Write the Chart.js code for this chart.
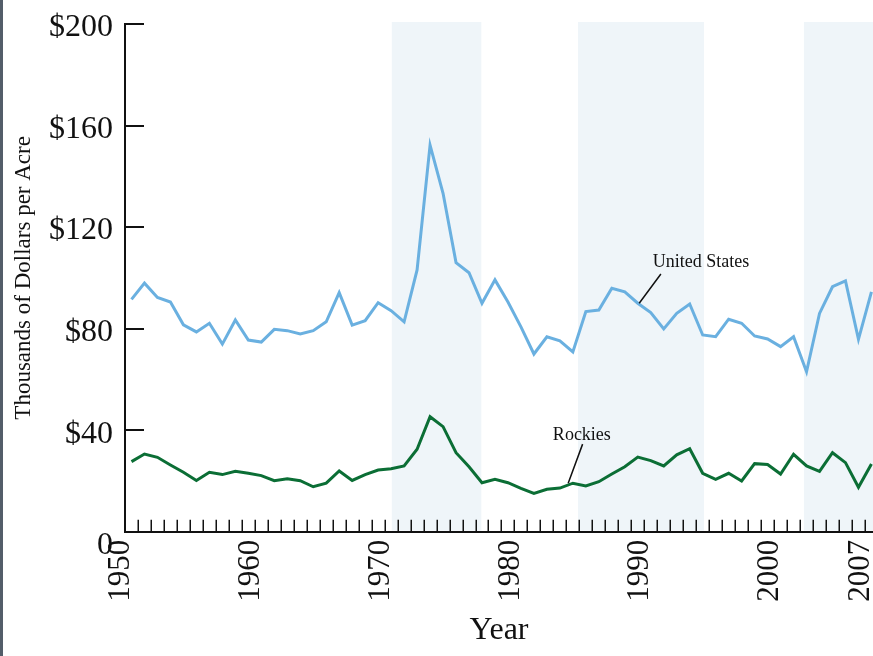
<!DOCTYPE html>
<html>
<head>
<meta charset="utf-8">
<script src="https://cdn.jsdelivr.net/npm/chart.js@4.4.1/dist/chart.umd.min.js"></script>
<style>
  html, body { margin: 0; padding: 0; background: #fff; }
  #wrap { position: relative; width: 873px; height: 656px; overflow: hidden; }
  #edge { position: absolute; left: 0; top: 0; width: 3px; height: 656px; background: #535d69; }
</style>
</head>
<body>
<div id="wrap">
  <canvas id="landChart" width="873" height="656"></canvas>
  <div id="edge"></div>
</div>
<script>
// Land value, thousands of dollars per acre
const years = [
  1950, 1951, 1952, 1953, 1954, 1955, 1956, 1957, 1958, 1959,
  1960, 1961, 1962, 1963, 1964, 1965, 1966, 1967, 1968, 1969,
  1970, 1971, 1972, 1973, 1974, 1975, 1976, 1977, 1978, 1979,
  1980, 1981, 1982, 1983, 1984, 1985, 1986, 1987, 1988, 1989,
  1990, 1991, 1992, 1993, 1994, 1995, 1996, 1997, 1998, 1999,
  2000, 2001, 2002, 2003, 2004, 2005, 2006, 2007
];
const unitedStates = [
  91.5, 97.9, 92.3, 90.5, 81.5, 78.7, 82.1, 73.9, 83.4, 75.5,
  74.7, 79.7, 79.2, 77.9, 79.2, 82.7, 94.2, 81.4, 83.1, 90.2,
  87.1, 82.7, 103.1, 152.3, 133.3, 106.0, 102.0, 90.0, 99.2, 90.5,
  80.7, 70.0, 76.8, 75.2, 70.8, 86.7, 87.3, 95.9, 94.5, 90.0,
  86.3, 79.9, 86.0, 89.7, 77.5, 76.8, 83.7, 82.1, 77.1, 75.9,
  72.9, 76.8, 63.0, 86.0, 96.5, 98.8, 75.8, 94.5
];
const rockies = [
  27.6, 30.6, 29.3, 26.3, 23.4, 20.2, 23.4, 22.5, 23.8, 23.0,
  22.1, 20.1, 20.9, 20.1, 17.7, 19.1, 23.9, 20.2, 22.5, 24.3,
  24.8, 25.9, 32.5, 45.3, 41.4, 31.1, 25.6, 19.3, 20.6, 19.3,
  17.1, 15.1, 16.7, 17.2, 19.1, 18.0, 19.7, 22.7, 25.6, 29.4,
  28.0, 25.9, 30.3, 32.7, 23.0, 20.6, 23.0, 20.0, 26.8, 26.5,
  22.7, 30.5, 25.9, 23.8, 31.1, 27.2, 17.5, 26.7
];
const yearLabels = [1950, 1960, 1970, 1980, 1990, 2000, 2007];
const valueTicks = [0, 40, 80, 120, 160, 200];
const bandStart = [1970.55, 1984.9, 2002.3];
const bandEnd = [1977.45, 1994.6, 2008];

const SERIF = '"Liberation Serif", "DejaVu Serif", serif';
const INK = '#111';

// year values plotted mid-year
const toPoints = vals => years.map((yr, i) => ({ x: yr + 0.5, y: vals[i] }));

// keep the plot area fixed: no extra room for overhanging labels
function fixBox(size) {
  return s => {
    if (s.isHorizontal()) s.height = size; else s.width = size;
    s.paddingLeft = s.paddingRight = s.paddingTop = s.paddingBottom = 0;
  };
}

const decor = {
  id: 'decor',
  beforeDatasetsDraw(chart) {
    const { ctx, chartArea: a, scales: { x } } = chart;
    ctx.save();
    ctx.fillStyle = '#eff5f9';
    bandStart.forEach((s, i) => {
      const x0 = x.getPixelForValue(s);
      const x1 = Math.min(x.getPixelForValue(bandEnd[i]), a.right);
      ctx.fillRect(x0, a.top - 2, x1 - x0, a.bottom - a.top + 1);
    });
    ctx.restore();
  },
  afterDatasetsDraw(chart) {
    const { ctx, chartArea: a, scales: { x, y } } = chart;
    ctx.save();
    ctx.strokeStyle = INK;
    // inward value ticks
    ctx.lineWidth = 2;
    valueTicks.slice(1).forEach(v => {
      const py = Math.round(y.getPixelForValue(v));
      ctx.beginPath(); ctx.moveTo(a.left, py); ctx.lineTo(a.left + 19, py); ctx.stroke();
    });
    // yearly minor ticks
    ctx.lineWidth = 1.5;
    years.slice(1).forEach(yr => {
      const px = Math.round(x.getPixelForValue(yr)) + 0.25;
      ctx.beginPath(); ctx.moveTo(px, a.bottom); ctx.lineTo(px, a.bottom - 12); ctx.stroke();
    });
    // zero label sits below the corner
    ctx.fillStyle = INK;
    ctx.font = '32px ' + SERIF;
    ctx.textAlign = 'center';
    ctx.textBaseline = 'middle';
    ctx.fillText('0', a.left - 20, a.bottom + 14);

    // series labels with leaders
    ctx.font = '18px ' + SERIF;
    ctx.textAlign = 'left';
    ctx.textBaseline = 'alphabetic';
    ctx.fillText('United States', x.getPixelForValue(1990.65), y.getPixelForValue(104.3));
    ctx.fillText('Rockies', x.getPixelForValue(1982.96), y.getPixelForValue(36.1));
    ctx.lineWidth = 1.5;
    ctx.beginPath();
    ctx.moveTo(x.getPixelForValue(1991.28), y.getPixelForValue(101.5));
    ctx.lineTo(x.getPixelForValue(1989.61), y.getPixelForValue(90.0));
    ctx.moveTo(x.getPixelForValue(1985.25), y.getPixelForValue(34.5));
    ctx.lineTo(x.getPixelForValue(1984.14), y.getPixelForValue(19.1));
    ctx.stroke();
    ctx.restore();
  }
};

new Chart(document.getElementById('landChart'), {
  type: 'line',
  data: {
    datasets: [
      { label: 'United States', data: toPoints(unitedStates), borderColor: '#6ab0e0', borderWidth: 3, pointRadius: 0, tension: 0 },
      { label: 'Rockies', data: toPoints(rockies), borderColor: '#0b6e35', borderWidth: 3, pointRadius: 0, tension: 0 }
    ]
  },
  options: {
    responsive: false,
    animation: false,
    layout: { padding: { top: 24, right: 0, left: 0, bottom: 0 } },
    plugins: { legend: { display: false }, tooltip: { enabled: false } },
    scales: {
      x: {
        type: 'linear',
        min: 1950,
        max: 2007.62,
        afterBuildTicks: s => { s.ticks = yearLabels.map(v => ({ value: v })); },
        afterFit: fixBox(124.3),
        grid: { display: true, drawOnChartArea: false, drawTicks: false },
        border: { display: true, color: INK, width: 2 },
        ticks: {
          autoSkip: false, minRotation: 90, maxRotation: 90, padding: 8, labelOffset: -4,
          color: INK, font: { family: SERIF, size: 31 },
          callback: v => String(v)
        },
        title: { display: true, text: 'Year', color: INK, font: { family: SERIF, size: 32 }, padding: { top: 0, bottom: 6 } }
      },
      y: {
        min: 0,
        max: 200,
        afterBuildTicks: s => { s.ticks = valueTicks.map(v => ({ value: v })); },
        afterFit: fixBox(125),
        grid: { display: true, drawOnChartArea: false, drawTicks: false },
        border: { display: true, color: INK, width: 2 },
        ticks: {
          padding: 12, labelOffset: 4,
          color: INK, font: { family: SERIF, size: 32 },
          callback: v => (v === 0 ? '' : '$' + v)
        },
        title: { display: true, text: 'Thousands of Dollars per Acre', color: INK, font: { family: SERIF, size: 23 }, padding: { top: 10, bottom: 0 } }
      }
    }
  },
  plugins: [decor]
});
</script>
</body>
</html>
